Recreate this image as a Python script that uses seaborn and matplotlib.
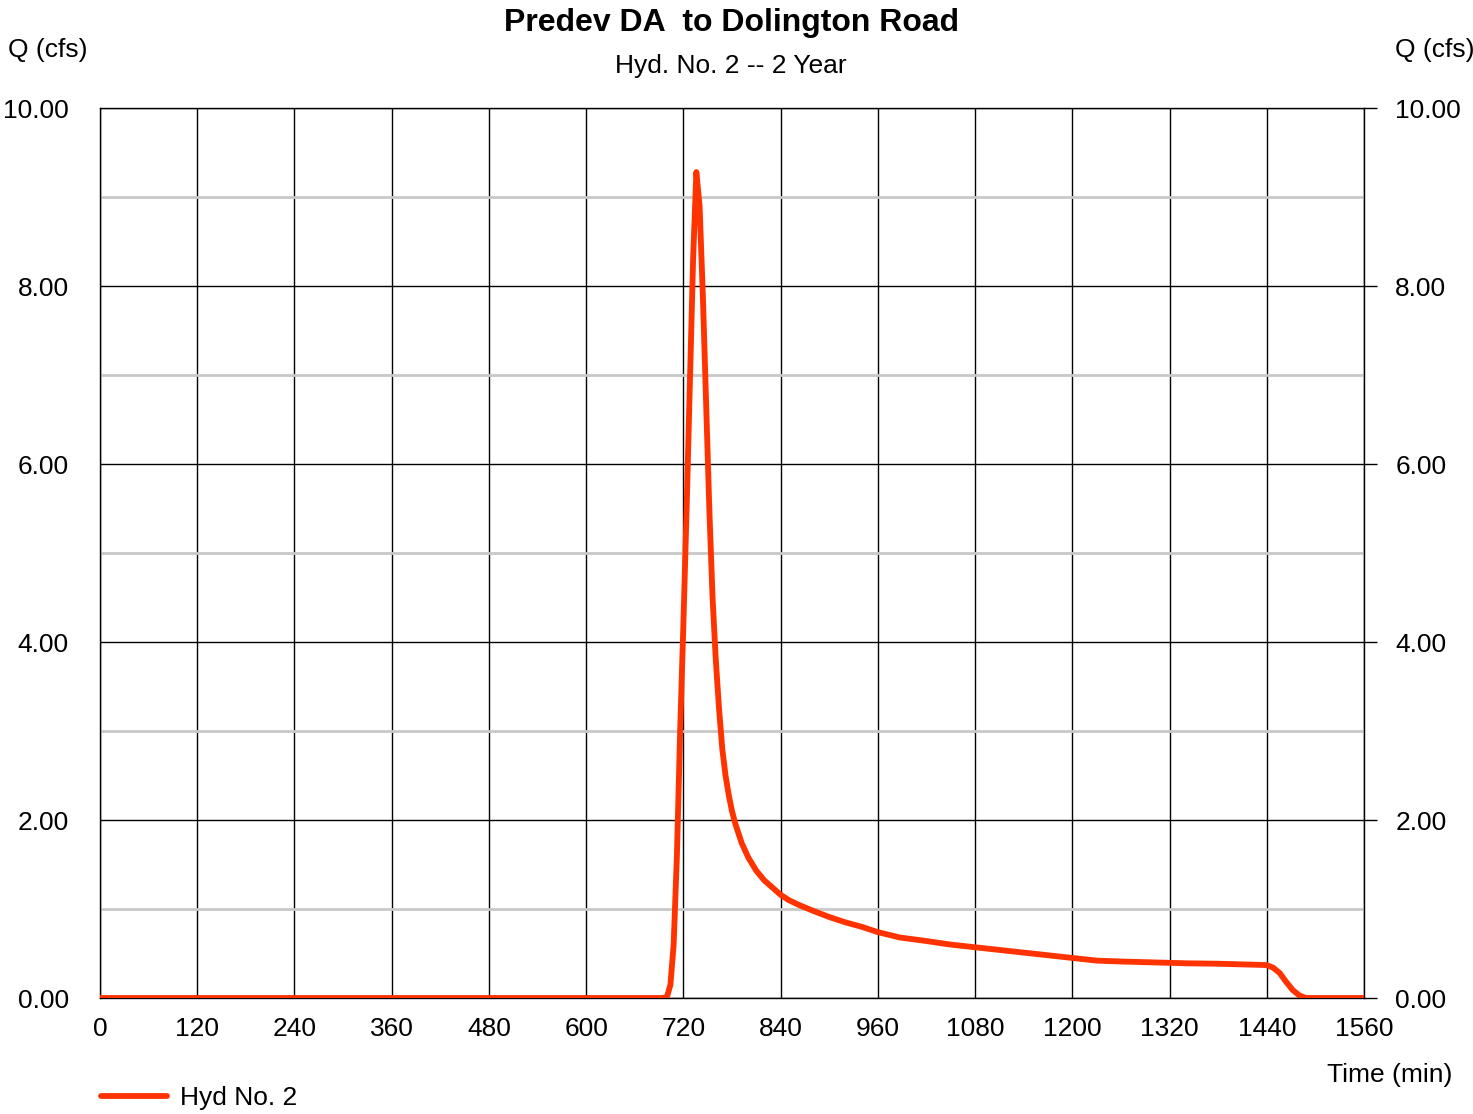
import matplotlib
matplotlib.use("Agg")
import matplotlib.pyplot as plt
from matplotlib.ticker import FixedLocator
import seaborn as sns
import pandas as pd

# Hydrograph ordinates: time (min) and discharge Q (cfs)
time_min = [0, 696, 700, 704, 708, 712, 716, 720, 724, 728, 732, 736, 740, 744, 748,
            752, 756, 760, 764, 768, 772, 776, 780, 784, 792, 800, 810, 820, 830, 840,
            850, 864, 880, 900, 920, 940, 960, 987, 1020, 1050, 1080, 1110, 1140, 1170,
            1200, 1230, 1260, 1300, 1340, 1380, 1420, 1440, 1448, 1456, 1464, 1472,
            1480, 1488, 1560]
flow_cfs = [0.0, 0.0, 0.02, 0.15, 0.6, 1.6, 3.0, 4.2, 5.5, 6.9, 8.3, 9.28, 8.9, 7.9, 6.7,
            5.5, 4.5, 3.8, 3.25, 2.8, 2.5, 2.28, 2.1, 1.96, 1.74, 1.58, 1.43, 1.32, 1.24,
            1.16, 1.10, 1.04, 0.98, 0.91, 0.85, 0.80, 0.74, 0.68, 0.64, 0.60, 0.57,
            0.54, 0.51, 0.48, 0.45, 0.42, 0.41, 0.40, 0.39, 0.385, 0.375, 0.37, 0.34,
            0.28, 0.18, 0.09, 0.03, 0.0, 0.0]

x_ticks = [0, 120, 240, 360, 480, 600, 720, 840, 960, 1080, 1200, 1320, 1440, 1560]
y_ticks = [0, 2, 4, 6, 8, 10]

title = "Predev DA  to Dolington Road"
subtitle = "Hyd. No. 2 -- 2 Year"
series_name = "Hyd No. 2"

sns.set_style("white")
plt.rcParams["font.family"] = ["Liberation Sans", "DejaVu Sans"]
plt.rcParams["text.color"] = "black"

W, H = 1473, 1114
fig = plt.figure(figsize=(W / 100, H / 100), dpi=100)
ax = fig.add_axes([100 / W, (H - 998) / H, 1264 / W, 890 / H])

df = pd.DataFrame({"Time (min)": time_min, "Q (cfs)": flow_cfs})

ax.set_xlim(0, 1560)
ax.set_ylim(0, 10)

# Minor (gray) and major (black) grid
ax.yaxis.set_minor_locator(FixedLocator([1, 3, 5, 7, 9]))
ax.grid(which="minor", axis="y", color="#c8c8c8", linewidth=2.0, zorder=0)
ax.set_xticks(x_ticks)
ax.set_yticks(y_ticks)
ax.grid(which="major", axis="both", color="black", linewidth=1.0, zorder=1)
ax.set_axisbelow(True)

sns.lineplot(data=df, x="Time (min)", y="Q (cfs)", ax=ax, color="#ff3300",
             linewidth=4.2, label=series_name, zorder=3, solid_capstyle="round",
             solid_joinstyle="round")

for s in ax.spines.values():
    s.set_color("black")
    s.set_linewidth(1.0)

ax.set_yticklabels([f"{v:.2f}" for v in y_ticks])
ax.set_xticklabels([str(v) for v in x_ticks])
ax.tick_params(axis="both", which="major", labelsize=19, direction="out",
               length=9.5, width=1, color="black", labelcolor="black", pad=13)
ax.tick_params(axis="y", which="minor", length=0)
ax.tick_params(axis="y", right=True, labelright=True)
ax.tick_params(axis="x", length=0, pad=14)
ax.set_xlabel("")
ax.set_ylabel("")

fig.text(731 / W, 1 - 23 / H, title, ha="center", va="center",
         fontsize=23, fontweight="bold")
fig.text(731 / W, 1 - 66 / H, subtitle, ha="center", va="center", fontsize=19)
fig.text(8 / W, 1 - 50 / H, "Q (cfs)", ha="left", va="center", fontsize=19)
fig.text(1395 / W, 1 - 50 / H, "Q (cfs)", ha="left", va="center", fontsize=19)
fig.text(1452 / W, 1 - 1075 / H, "Time (min)", ha="right", va="center", fontsize=19)

leg = ax.legend(loc="upper left", bbox_to_anchor=(0.0 - 10 / 1264, -0.087),
                frameon=False, fontsize=19, handlelength=2.5, handletextpad=0.5,
                borderaxespad=0)
for t in leg.get_texts():
    t.set_color("black")

fig.savefig("out.png", dpi=100)
